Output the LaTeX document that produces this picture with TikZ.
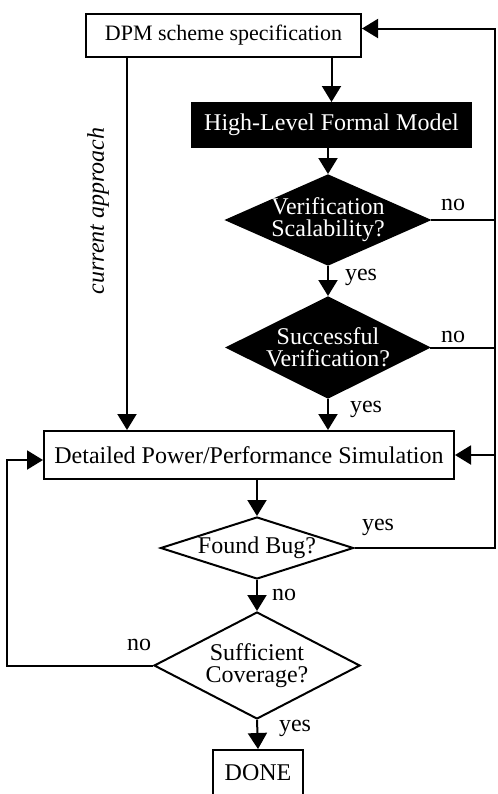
\documentclass[tikz,border=0pt]{standalone}
\usepackage{fontspec}
\setmainfont{Liberation Serif}
\usetikzlibrary{shapes.geometric,arrows.meta}

\tikzset{
  box/.style={draw, line width=1pt, inner sep=0pt, font=\fontsize{12}{13}\selectfont},
  blackbox/.style={box, fill=black, text=white},
  decision/.style={diamond, draw, line width=1pt, inner sep=-2pt, align=center, font=\fontsize{12}{11}\selectfont},
  blackdecision/.style={decision, fill=black, text=white},
  arr/.style={line width=1pt, -{Triangle[length=8pt,width=9.5pt]}},
  line/.style={line width=1pt},
  lbl/.style={font=\fontsize{12}{13}\selectfont, inner sep=0pt}
}

\begin{document}
\begin{tikzpicture}[x=0.5pt,y=-0.5pt]
	\useasboundingbox (0,0) rectangle (498,794);
	
	\node[box, font=\fontsize{11}{12}\selectfont, minimum width=137.5pt, minimum height=21.5pt] (spec) at (223.5,35.5) {DPM scheme specification};
	\node[blackbox, minimum width=139.5pt, minimum height=22pt] (hlmodel) at (331.5,125) {High-Level Formal Model};
	\node[blackdecision, aspect=2.26, minimum width=101.5pt, minimum height=45pt] (scal) at (328,220) {Verification\\Scalability?};
	\node[blackdecision, aspect=2, minimum width=101pt, minimum height=50.5pt] (succ) at (328,347.5) {Successful\\Verification?};
	\node[box, minimum width=205pt, minimum height=24pt] (sim) at (249,455) {Detailed Power/Performance Simulation};
	\node[decision, aspect=3.1, minimum width=96.5pt, minimum height=31pt] (bug) at (257,548) {Found Bug?};
	\node[decision, aspect=1.93, minimum width=103pt, minimum height=53.5pt] (cover) at (257,665.5) {Sufficient\\Coverage?};
	\node[box, minimum width=45pt, minimum height=23pt] (done) at (258,773) {DONE};
	
	\coordinate (bus) at (495,0);
	\coordinate (cur) at (127,0);
	\coordinate (loop) at (7,0);
	\coordinate (specin) at ([yshift=3.5pt]spec.east);
	\coordinate (simin) at ([yshift=-2.5pt]sim.west);
	
	% main flow
	\draw[arr] (spec.south -| hlmodel.north) -- (hlmodel.north);
	\draw[arr] (hlmodel.south -| scal.north) -- (scal.north);
	\draw[arr] (scal.south) -- (succ.north);
	\draw[arr] (succ.south) -- (succ.south |- sim.north);
	\draw[arr] (sim.south -| bug.north) -- (bug.north);
	\draw[arr] (bug.south) -- (cover.north);
	\draw[arr] (cover.south) -- (done.north);
	
	% current approach
	\draw[arr] (spec.south -| cur) -- (sim.north -| cur);
	\node[lbl, rotate=90, font=\fontsize{12}{13}\selectfont\itshape] (curlbl) at (98,211) {current approach};
	
	% feedback
	\draw[line] (scal.east) -- (scal.east -| bus);
	\draw[line] (succ.east) -- (succ.east -| bus);
	\draw[arr] (bug.east) -- (bug.east -| bus) -- (bus |- specin) -- (specin);
	\draw[arr] (bus |- sim.east) -- (sim.east);
	\draw[arr] (cover.west) -- (cover.west -| loop) -- (loop |- simin) -- (simin);
	
	% labels
	\node[lbl] (no1) at (453,205) {no};
	\node[lbl] (no2) at (453,337) {no};
	\node[lbl] (yes1) at (361,277) {yes};
	\node[lbl] (yes2) at (366,409) {yes};
	\node[lbl] (yes3) at (378,527) {yes};
	\node[lbl] (no3) at (284,595) {no};
	\node[lbl] (no4) at (139,645) {no};
	\node[lbl] (yes4) at (295,728) {yes};
\end{tikzpicture}
\end{document}
